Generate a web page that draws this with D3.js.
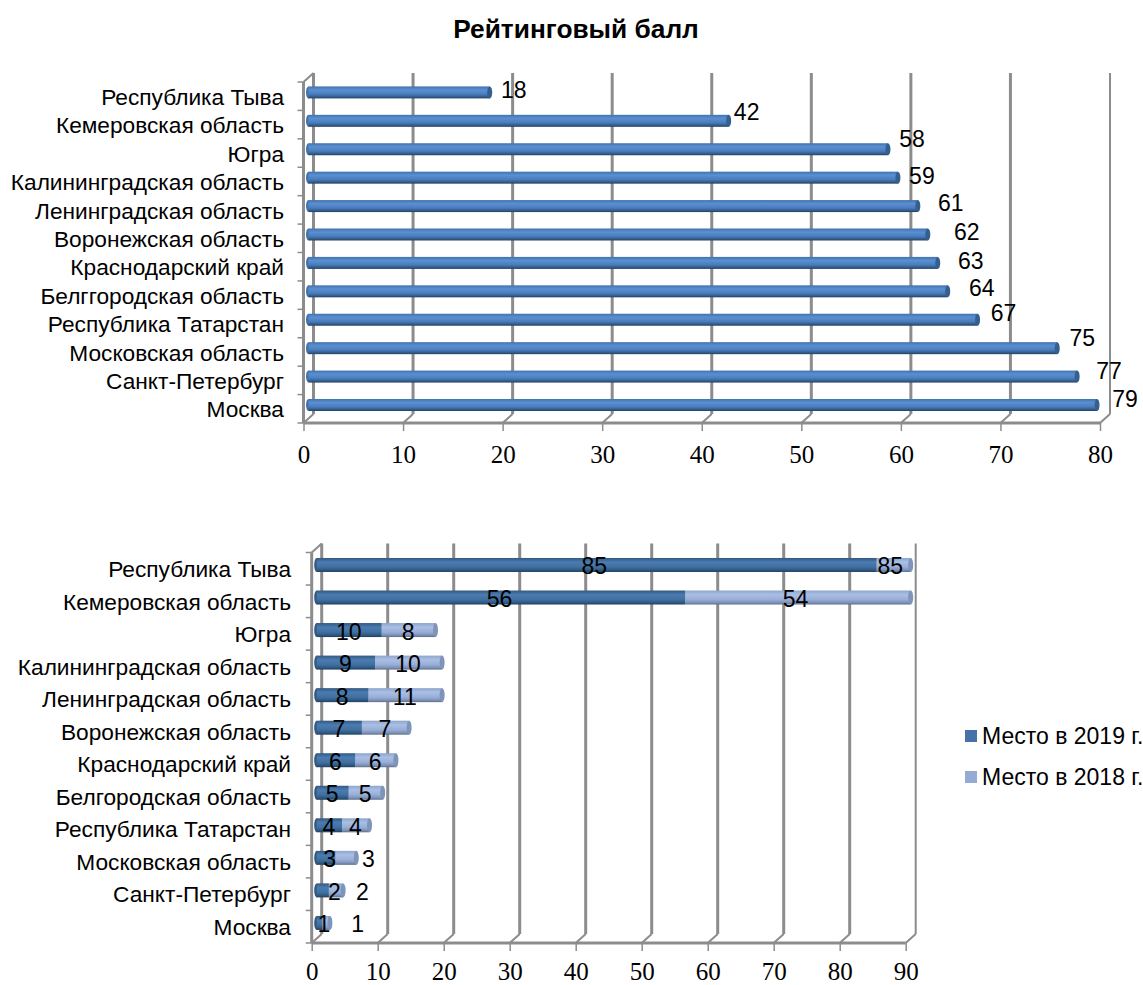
<!DOCTYPE html>
<html>
<head>
<meta charset="utf-8">
<script src="https://cdn.jsdelivr.net/npm/d3@7"></script>
<style>
  html, body { margin: 0; padding: 0; background: #fff; }
  svg { display: block; }
  text { font-family: "Liberation Sans", Arial, sans-serif; fill: #000; }
</style>
</head>
<body>
<svg id="chart" width="1143" height="985"></svg>
<script>
const regionsTop = ["Республика Тыва", "Кемеровская область", "Югра", "Калининградская область", "Ленинградская область", "Воронежская область", "Краснодарский край", "Белггородская область", "Республика Татарстан", "Московская область", "Санкт-Петербург", "Москва"]
const regionsBottom = ["Республика Тыва", "Кемеровская область", "Югра", "Калининградская область", "Ленинградская область", "Воронежская область", "Краснодарский край", "Белгородская область", "Республика Татарстан", "Московская область", "Санкт-Петербург", "Москва"]
const score = [18, 42, 58, 59, 61, 62, 63, 64, 67, 75, 77, 79]
const place2019 = [85, 56, 10, 9, 8, 7, 6, 5, 4, 3, 2, 1]
const place2018 = [85, 54, 8, 10, 11, 7, 6, 5, 4, 3, 2, 1]
const scoreTicks = [0, 10, 20, 30, 40, 50, 60, 70, 80]
const placeTicks = [0, 10, 20, 30, 40, 50, 60, 70, 80, 90]
const legendLabels = ["Место в 2019 г.", "Место в 2018 г."]

// hand-placed data labels in the original, offsets in px from the default spot
const scoreNudge = [[15, 0], [9, -6.5], [15, -8], [15, 0], [24, -1], [30, 0], [24, 0], [25, -1], [17, -5], [16, -8], [23, -4], [19, -4]]
const place19Nudge = [-2, -1, 0, 0, 0, 0, 0, 0, 0, 4, 12, 5]
const place18Nudge = [-3, -2, 0, 0, 0, 0, 0, 0, 0, 23, 27, 32]

const svg = d3.select("#chart")
const defs = svg.append("defs")

const gradient = (id, stops) => {
  const g = defs.append("linearGradient").attr("id", id).attr("x1", 0).attr("y1", 0).attr("x2", 0).attr("y2", 1)
  stops.forEach(([o, c]) => g.append("stop").attr("offset", o).attr("stop-color", c))
}
gradient("barScore", [[0, "#4173ad"], [0.3, "#5a8fd2"], [0.65, "#4a7dbd"], [0.85, "#34608f"], [1, "#24405f"]])
gradient("bar2019", [[0, "#33587f"], [0.3, "#4a7cb2"], [0.65, "#41709f"], [0.85, "#305a85"], [1, "#223f5f"]])
gradient("bar2018", [[0, "#8ea5cc"], [0.3, "#aabfe4"], [0.65, "#98aed8"], [0.85, "#7f94b9"], [1, "#5f6f8c"]])

const gridColor = "#8c8c8c"
const depthX = 10, depthY = 9

function frame(g, x, y, ticks, labelY, x0, yTop, yBottom) {
  const line = (x1, y1, x2, y2, w) =>
    g.append("line").attr("x1", x1).attr("y1", y1).attr("x2", x2).attr("y2", y2)
      .attr("stroke", gridColor).attr("stroke-width", w)

  // back wall gridlines and floor diagonals
  ticks.forEach((t) => {
    line(x(t) + depthX, yTop - depthY, x(t) + depthX, yBottom - depthY, t === ticks[ticks.length - 1] ? 2 : 3)
    line(x(t), yBottom, x(t) + depthX, yBottom - depthY, 2)
  })
  line(x0, yTop, x0 + depthX, yTop - depthY, 2)
  line(x0, yTop, x0, yBottom, 3)
  line(x0, yBottom, x(ticks[ticks.length - 1]), yBottom, 3)

  // edge ticks on the category axis
  d3.range(13).forEach((i) => {
    const ty = yTop + i * y.step()
    line(x0 - 6, ty, x0, ty, 1.5)
  })

  const axis = g.append("g")
    .attr("transform", `translate(0,${yBottom})`)
    .call(d3.axisBottom(x).tickValues(ticks).tickSize(8).tickPadding(0).tickFormat(d3.format("d")))
  axis.select(".domain").remove()
  axis.selectAll(".tick line").attr("stroke", gridColor).attr("stroke-width", 1.5)
  axis.selectAll(".tick text")
    .attr("y", labelY - yBottom).attr("dy", 0)
    .style("font-family", "'Liberation Serif', 'Times New Roman', serif")
    .style("font-size", "25px")
}

function categoryAxis(g, y, xRight, dy) {
  const axis = g.append("g")
    .attr("transform", `translate(${xRight},0)`)
    .call(d3.axisLeft(y).tickSize(0).tickPadding(0))
  axis.select(".domain").remove()
  axis.selectAll(".tick text")
    .attr("dy", dy)
    .style("font-size", "22.7px")
}

function tube(g, x1, x2, cy, h, fill, capFill) {
  g.append("rect").attr("x", x1).attr("y", cy - h / 2).attr("width", Math.max(x2 - x1, 0)).attr("height", h).attr("fill", `url(#${fill})`)
  if (capFill) {
    g.append("ellipse").attr("cx", x2).attr("cy", cy).attr("rx", 2.5).attr("ry", h / 2).attr("fill", capFill)
  }
}

// top chart
{
  const yTop = 82, yBottom = 423, x0 = 303.5
  const x = d3.scaleLinear().domain([0, 80]).range([x0, 1100])
  const y = d3.scaleBand().domain(regionsTop).range([yTop, yBottom])
  const g = svg.append("g")

  g.append("text").attr("x", 576).attr("y", 38).attr("text-anchor", "middle")
    .style("font-size", "26.3px").style("font-weight", "bold").text("Рейтинговый балл")

  frame(g, x, y, scoreTicks, 463, x0, yTop, yBottom)
  categoryAxis(g, y, 284, "0.38em")

  regionsTop.forEach((r, i) => {
    const cy = y(r) + y.bandwidth() / 2 - 3.8
    g.append("ellipse").attr("cx", x0 + 5).attr("cy", cy).attr("rx", 2.5).attr("ry", 6).attr("fill", "#4173ad")
    tube(g, x0 + 5, x(score[i]) + 7, cy, 12, "barScore", "#34608f")
    g.append("text")
      .attr("x", x(score[i]) + 16 + scoreNudge[i][0])
      .attr("y", cy + 6 + scoreNudge[i][1])
      .attr("text-anchor", "middle")
      .style("font-size", "23px")
      .text(score[i])
  })
}

// bottom chart, stacked and cut off at the axis maximum
{
  const yTop = 552.5, yBottom = 943, x0 = 311.7
  const x = d3.scaleLinear().domain([0, 90]).range([x0, 905.7]).clamp(true)
  const y = d3.scaleBand().domain(regionsBottom).range([yTop, yBottom])
  const g = svg.append("g")

  frame(g, x, y, placeTicks, 979.5, x0, yTop, yBottom)
  categoryAxis(g, y, 291, "0.36em")

  regionsBottom.forEach((r, i) => {
    const cy = y(r) + y.bandwidth() / 2 - 3.8
    const a = place2019[i], b = place2018[i]
    g.append("ellipse").attr("cx", x0 + 5).attr("cy", cy).attr("rx", 2.5).attr("ry", 7).attr("fill", "#33587f")
    tube(g, x(a) + 4, x(a + b) + 5, cy, 14, "bar2018", "#7f94b9")
    tube(g, x0 + 5, x(a) + 4, cy, 14, "bar2019", null)

    g.append("text").attr("x", (x(0) + x(a)) / 2 + 4 + place19Nudge[i]).attr("y", cy + 9.5)
      .attr("text-anchor", "middle").style("font-size", "23px").text(a)
    g.append("text").attr("x", (x(a) + x(a + b)) / 2 + 4 + place18Nudge[i]).attr("y", cy + 9.5)
      .attr("text-anchor", "middle").style("font-size", "23px").text(b)
  })

  // legend
  const legend = svg.append("g")
  const legendColor = d3.scaleOrdinal().domain(legendLabels).range(["#4672a8", "#95abd4"])
  const legendY = d3.scalePoint().domain(legendLabels).range([736, 777])
  legendLabels.forEach((l) => {
    legend.append("rect").attr("x", 965).attr("y", legendY(l) - 6).attr("width", 12).attr("height", 12).attr("fill", legendColor(l))
    legend.append("text").attr("x", 982).attr("y", legendY(l) + 8).style("font-size", "23px").text(l)
  })
}
</script>
</body>
</html>
